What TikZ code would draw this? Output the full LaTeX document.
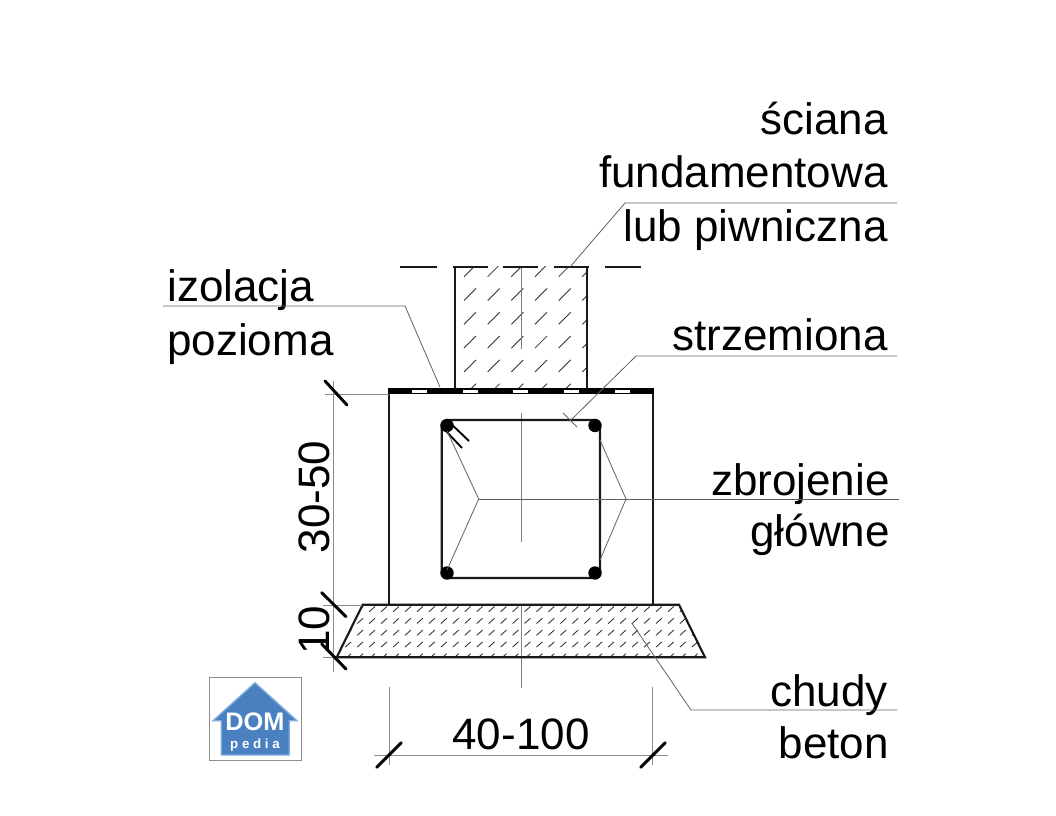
\documentclass[tikz,border=0pt]{standalone}
\usepackage{fontspec}
\setmainfont{Liberation Sans}
\begin{document}
\begin{tikzpicture}[x=0.75pt,y=-0.75pt,
  lbl/.style={inner sep=0pt,font=\fontsize{33}{36}\selectfont,text=black},
  outline/.style={line width=1.6pt,draw=black!90},
  leader/.style={line width=0.6pt,draw=black!62},
  axisline/.style={line width=0.7pt,draw=black!50},
  dimline/.style={line width=0.6pt,draw=black!45},
  tick/.style={line width=2.2pt,draw=black,line cap=round},
  hatch/.style={line width=0.65pt,draw=black!80},
  hook/.style={line width=1.4pt,draw=black}]
\useasboundingbox (0,0) rectangle (1056,816);
\fill[white] (0,0) rectangle (1056,816);
% hatching wall
\begin{scope}
\clip (456,267) rectangle (587,388);
\foreach \i in {0,...,5}{\foreach \j in {0,...,5}{
  \draw[hatch] ({464+23.67*\i},{276.7+23.8*\j}) -- ++(12,-12);
}}
\end{scope}
% hatching lean concrete
\begin{scope}
\clip (363,605) -- (679,605) -- (705,657.3) -- (337,657.3) -- cycle;
\foreach \i in {0,...,30}{\foreach \j in {0,...,4}{
  \draw[hatch] ({345.3+11.95*\i},{611.7+11.8*\j}) -- ++(5.8,-5.2);
}}
\end{scope}
% centre lines
\coordinate (axA) at (521,267); \coordinate (axB) at (521,349);
\coordinate (axC) at (521,413); \coordinate (axD) at (521,542);
\coordinate (axE) at (521,605); \coordinate (axF) at (521,688);
\draw[axisline] (axA) -- (axB);
\draw[axisline] (axC) -- (axD);
\draw[axisline] (axE) -- (axF);
% wall
\draw[outline] (455,267) -- (455,389);
\draw[outline] (587,267) -- (587,389);
\foreach \a/\b in {400/437,453/488,503/538,554/589,605/641}{
  \draw[line width=1pt,draw=black!90] (\a,267) -- (\b,267);
}
% footing
\draw[outline] (389,394) -- (389,605);
\draw[outline] (653,394) -- (653,605);
% insulation
\fill[black] (388,388.3) rectangle (654,394.3);
\foreach \a in {412,463,513,564,615}{
  \fill[white] (\a,390) rectangle ++(15,3);
}
% lean concrete
\draw[outline] (362.7,604.7) -- (679,604.7) -- (705,657.3) -- (336.7,657.3) -- cycle;
% stirrup
\draw[line width=1.7pt,draw=black!90,rounded corners=4pt] (441.7,420) rectangle (600,578);
\fill[black] (447,425.5) circle[radius=6.7];
\fill[black] (595,425.5) circle[radius=6.7];
\fill[black] (447,573) circle[radius=6.7];
\fill[black] (595,573) circle[radius=6.7];
\draw[hook] (447,420) -- (469,441);
\draw[hook] (445,430) -- (462,448);
% labels
\node[lbl,anchor=base east] (t1) at (888,135) {ściana};
\node[lbl,anchor=base east] (t2) at (888,188) {fundamentowa};
\node[lbl,anchor=base east] (t3) at (888,242) {lub piwniczna};
\node[lbl,anchor=base west] (t4) at (167,302) {izolacja};
\node[lbl,anchor=base west] (t5) at (167,355) {pozioma};
\node[lbl,anchor=base east] (t6) at (888,351) {strzemiona};
\node[lbl,anchor=base east] (t7) at (890,495) {zbrojenie};
\node[lbl,anchor=base east] (t8) at (890,546) {główne};
\node[lbl,anchor=base east] (t9) at (888,706) {chudy};
\node[lbl,anchor=base east] (t10) at (889,758) {beton};
\node[lbl,anchor=base] (d1) at (521,749) {40-100};
\node[lbl,anchor=base,rotate=90] (d2) at (329,497) {30-50};
\node[lbl,anchor=base,rotate=90] (d3) at (329,630) {10};
% leaders
\coordinate (la) at (897,203); \coordinate (lb) at (625,203); \coordinate (lc) at (570,267);
\draw[leader] (la) -- (lb) -- (lc);
\coordinate (ld) at (163,306); \coordinate (le) at (405,306); \coordinate (lf) at (440,387);
\draw[leader] (ld) -- (le) -- (lf);
\coordinate (lg) at (897,356); \coordinate (lh) at (636,356); \coordinate (li) at (571,420);
\draw[leader] (lg) -- (lh) -- (li);
\coordinate (tka) at (563,413); \coordinate (tkb) at (577,427);
\draw[leader] (tka) -- (tkb);
\coordinate (lj) at (899,499); \coordinate (lk) at (478.7,499);
\draw[leader] (lj) -- (lk);
\coordinate (ll) at (447,431); \coordinate (lm) at (447,570);
\draw[leader] (ll) -- (lk) -- (lm);
\coordinate (ln) at (600,440); \coordinate (lo) at (626,499); \coordinate (lp) at (600,560);
\draw[leader] (ln) -- (lo) -- (lp);
\coordinate (lq) at (897,710); \coordinate (lr) at (691,710); \coordinate (ls) at (631.7,623);
\draw[leader] (lq) -- (lr) -- (ls);
% dimensions
\coordinate (va) at (333,381); \coordinate (vb) at (333,672);
\draw[dimline] (va) -- (vb);
\coordinate (ea) at (325,394); \coordinate (eb) at (389,394);
\draw[dimline] (ea) -- (eb);
\coordinate (ec) at (323,605); \coordinate (ed) at (362,605);
\draw[dimline] (ec) -- (ed);
\coordinate (ee) at (323,657); \coordinate (ef) at (337,657);
\draw[dimline] (ee) -- (ef);
\coordinate (ha) at (374,755); \coordinate (hb) at (668,755);
\draw[dimline] (ha) -- (hb);
\coordinate (xa) at (389,687); \coordinate (xb) at (389,765);
\draw[dimline] (xa) -- (xb);
\coordinate (xc) at (652.5,687); \coordinate (xd) at (652.5,765);
\draw[dimline] (xc) -- (xd);
\draw[tick] (325,381) -- (347,405);
\draw[tick] (321.7,592.7) -- (346,616.7);
\draw[tick] (321.7,644) -- (346,669);
\draw[tick] (376.7,767.3) -- (401.3,742.7);
\draw[tick] (640.7,767.3) -- (665.3,742.7);
% logo
\draw[line width=0.9pt,draw=black!45,fill=white] (209.5,677.5) rectangle (301.5,760.5);
\draw[line width=1pt,draw={rgb,255:red,130;green,175;blue,225},fill={rgb,255:red,74;green,128;blue,192}]
  (255,682.7) -- (297,720.7) -- (289.3,720.7) -- (289.3,755) -- (221.3,755) -- (221.3,720.7) -- (213,720.7) -- cycle;
\node[inner sep=0pt,text=white,font=\fontsize{19}{20}\selectfont\bfseries] (logoA) at (255,722) {DOM};
\node[inner sep=0pt,text=white,font=\fontsize{10}{11}\selectfont\bfseries] (logoB) at (255,745) {p e d i a};
\end{tikzpicture}
\end{document}
